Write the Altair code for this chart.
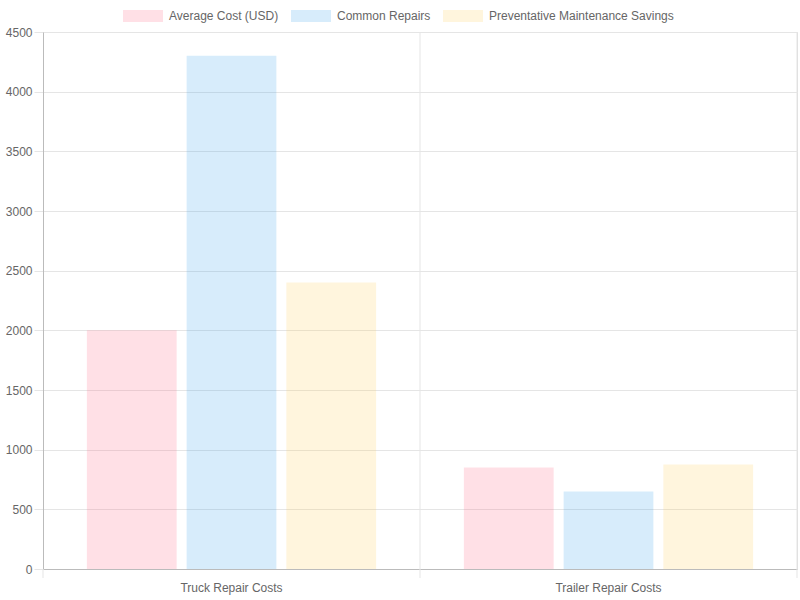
import altair as alt
import pandas as pd

categories = ["Truck Repair Costs", "Trailer Repair Costs"]
series = ["Average Cost (USD)", "Common Repairs", "Preventative Maintenance Savings"]
avg_cost = [2000, 850]
common_repairs = [4300, 650]
prev_savings = [2400, 875]
colors = ["rgb(255,99,132)", "rgb(54,162,235)", "rgb(255,206,86)"]

rows = []
for i, c in enumerate(categories):
    for s, vals in zip(series, [avg_cost, common_repairs, prev_savings]):
        rows.append({"cat": c, "series": s, "value": vals[i]})
df = pd.DataFrame(rows)
cats_df = pd.DataFrame({"cat": categories})

W, H = 754, 537
FONT = "Liberation Sans"
GRID = "#e5e5e5"
AXIS = "#bbbbbb"

xscale = alt.Scale(domain=categories, paddingInner=0, paddingOuter=0)

bars = alt.Chart(df).mark_bar(fillOpacity=0.2, strokeWidth=0).encode(
    x=alt.X("cat:N", scale=xscale, sort=categories, title=None,
            axis=alt.Axis(labelAngle=0, ticks=False, tickSize=0, labelPadding=13,
                          bandPosition=0.5, labelAlign="center",
                          domainColor=AXIS, grid=False, labelFont=FONT,
                          labelFontSize=12, labelColor="#666")),
    xOffset=alt.XOffset("series:N", sort=series,
                        scale=alt.Scale(paddingInner=0.1, paddingOuter=0.44)),
    y=alt.Y("value:Q", scale=alt.Scale(domain=[0, 4500], nice=False),
            title=None,
            axis=alt.Axis(values=list(range(0, 4501, 500)), format="d",
                          gridColor=GRID, tickColor=GRID, tickSize=9,
                          labelPadding=2, domainColor=AXIS, labelFont=FONT,
                          labelFontSize=12, labelColor="#666")),
    color=alt.Color("series:N", sort=series,
                    scale=alt.Scale(domain=series, range=colors),
                    legend=alt.Legend(title=None, orient="none", direction="horizontal",
                                      legendX=80, legendY=-36,
                                      symbolType="M-1,-0.3H1V0.3H-1Z",
                                      symbolSize=1600, symbolOpacity=0.2,
                                      symbolStrokeWidth=0, labelOffset=6,
                                      columnPadding=12, labelFont=FONT,
                                      labelFontSize=12, labelColor="#666",
                                      labelLimit=400)),
)

# grid lines at band boundaries (except left edge, which is the axis line)
grid_start = alt.Chart(cats_df).transform_filter(
    alt.datum.cat != categories[0]
).mark_rule(color=GRID, strokeWidth=1).encode(
    x=alt.X("cat:N", bandPosition=0, scale=xscale, sort=categories),
    y=alt.value(0), y2=alt.value(H + 9))
grid_end = alt.Chart(cats_df).transform_filter(
    alt.datum.cat == categories[-1]
).mark_rule(color=GRID, strokeWidth=1).encode(
    x=alt.X("cat:N", bandPosition=1, scale=xscale, sort=categories),
    y=alt.value(0), y2=alt.value(H + 9))
tick_left = alt.Chart(cats_df).transform_filter(
    alt.datum.cat == categories[0]
).mark_rule(color=GRID, strokeWidth=1).encode(
    x=alt.X("cat:N", bandPosition=0, scale=xscale, sort=categories),
    y=alt.value(H), y2=alt.value(H + 9))

chart = alt.layer(bars, grid_start, grid_end, tick_left).properties(
    width=W, height=H,
    autosize=alt.AutoSizeParams(type="none"),
    padding={"left": 43, "top": 32, "right": 3, "bottom": 31},
).configure_view(stroke=None).configure(background="white")

chart.save("out.html", embed_options={"renderer": "svg", "actions": False})
